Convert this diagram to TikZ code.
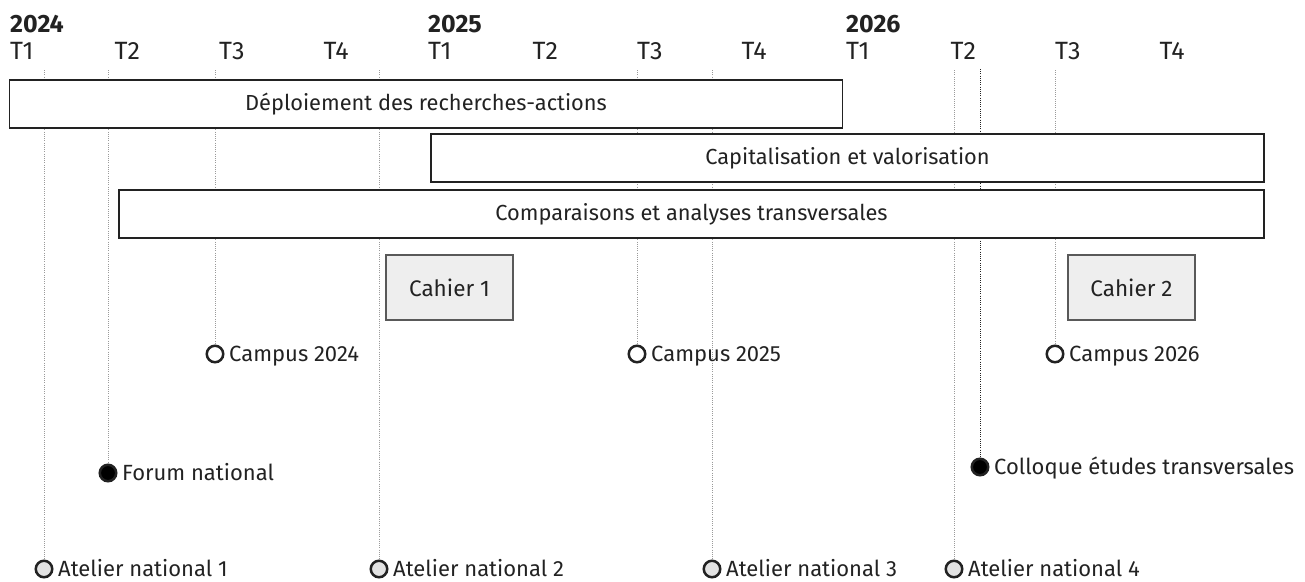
\documentclass[tikz,border=0pt]{standalone}
\usepackage{fontspec}
\setmainfont{Fira Sans}
\usetikzlibrary{positioning,backgrounds}

\definecolor{inkgrey}{HTML}{222222}
\definecolor{guidegrey}{HTML}{9A9A9A}
\definecolor{cahierfill}{HTML}{EEEEEE}

\begin{document}
\begin{tikzpicture}[
            x=1pt, y=-1pt,
            quarterlbl/.style={anchor=base west, inner sep=0pt, text=inkgrey, font=\fontsize{25}{28}\selectfont},
            yearlbl/.style={quarterlbl, font=\fontsize{25}{28}\selectfont\bfseries},
            phase/.style={draw=inkgrey, line width=1.3pt, fill=white, minimum height=48pt, inner sep=0pt, text=inkgrey, font=\fontsize{21.8}{25}\selectfont},
            cahier/.style={draw=black!65, line width=1.1pt, fill=cahierfill, minimum width=127pt, minimum height=65pt, inner sep=0pt, text=inkgrey, font=\fontsize{22.5}{25}\selectfont},
            event/.style={circle, draw=inkgrey, line width=2.5pt, fill=white, minimum size=16.5pt, inner sep=0pt},
            atelier/.style={event, fill=black!11},
            meeting/.style={event, fill=black},
            evlbl/.style={right=4.5pt of #1, inner sep=0pt, text height=15pt, text depth=0pt, text=inkgrey, font=\fontsize{22}{25}\selectfont},
            guide/.style={guidegrey, line width=0.9pt, dash pattern=on 1pt off 1.2pt},
        ]
            \useasboundingbox (0,0) rectangle (1305,581);

            % years and quarters
            \foreach \yr [count=\k from 0] in {2024,2025,2026} {
                \node [yearlbl] (y\yr) at ({10+418*\k},32) {\yr};
                \foreach \q in {1,...,4}
                    \node [quarterlbl] (q\yr-\q) at ({10+418*\k+104.5*(\q-1)},59) {T\q};
            }

            % phases
            \node [phase, minimum width=833pt]  (deploy)  at (426,104)   {Déploiement des recherches-actions};
            \node [phase, minimum width=833pt]  (capital) at (847.5,158) {Capitalisation et valorisation};
            \node [phase, minimum width=1145pt] (compare) at (691.5,214) {Comparaisons et analyses transversales};

            % publications
            \node [cahier] (cahier1) at (449.5,287.5)  {Cahier 1};
            \node [cahier] (cahier2) at (1131.5,287.5) {Cahier 2};

            % events
            \node [event]   (cp24) at (215,354) {};
            \node [evlbl=cp24] {Campus 2024};
            \node [event]   (cp25) at (637,354) {};
            \node [evlbl=cp25] {Campus 2025};
            \node [event]   (cp26) at (1055,354) {};
            \node [evlbl=cp26] {Campus 2026};
            \node [meeting] (forum) at (108,473) {};
            \node [evlbl=forum] {Forum national};
            \node [meeting] (colloque) at (980,467) {};
            \node [evlbl=colloque] {Colloque études transversales};
            \node [atelier] (at1) at (44,569) {};
            \node [evlbl=at1] {Atelier national 1};
            \node [atelier] (at2) at (379,569) {};
            \node [evlbl=at2] {Atelier national 2};
            \node [atelier] (at3) at (712,569) {};
            \node [evlbl=at3] {Atelier national 3};
            \node [atelier] (at4) at (954,569) {};
            \node [evlbl=at4] {Atelier national 4};

            % guides behind the phases
            \begin{scope}[on background layer]
                \coordinate (top-at1) at (44,70);
                \coordinate (top-forum) at (108,70);
                \coordinate (top-cp24) at (215,70);
                \coordinate (top-at2) at (379,70);
                \coordinate (top-cp25) at (637,70);
                \coordinate (top-at3) at (712,70);
                \coordinate (top-at4) at (954,70);
                \coordinate (top-colloque) at (980,69);
                \coordinate (top-cp26) at (1055,70);
                \draw [guide] (top-at1) -- (at1);
                \draw [guide] (top-forum) -- (forum);
                \draw [guide] (top-cp24) -- (cp24);
                \draw [guide] (top-at2) -- (at2);
                \draw [guide] (top-cp25) -- (cp25);
                \draw [guide] (top-at3) -- (at3);
                \draw [guide] (top-at4) -- (at4);
                \draw [guide, inkgrey] (top-colloque) -- (colloque);
                \draw [guide] (top-cp26) -- (cp26);
            \end{scope}
        \end{tikzpicture}
\end{document}
